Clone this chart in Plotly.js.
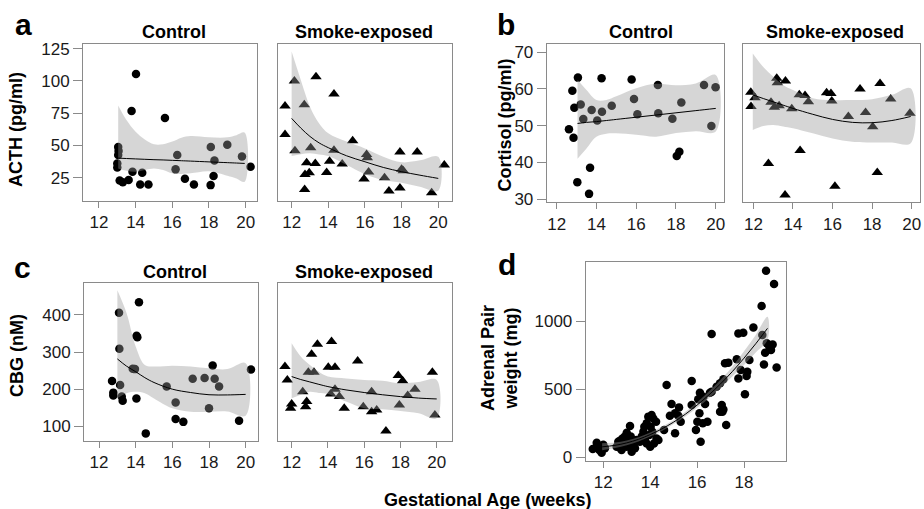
<!DOCTYPE html>
<html>
<head>
<meta charset="utf-8">
<script src="https://cdn.plot.ly/plotly-3.0.1.min.js"></script>
<style>html,body{margin:0;padding:0;background:#fff}#chart{width:924px;height:509px}</style>
</head>
<body>
<div id="chart"></div>
<script>
// ---------- DATA ----------
// Panel a: ACTH (pg/ml)
const acthCtrlX = [14.02, 13.78, 15.6, 13.05, 13.07, 13.05, 13.0, 13.0, 13.83, 13.13, 13.3, 13.62, 14.36, 14.25, 14.7, 16.27, 16.18, 16.69, 17.18, 18.1, 18.3, 18.25, 18.09, 19.0, 19.8, 20.27];
const acthCtrlY = [105.4, 76.7, 71.3, 48.8, 45.8, 42.6, 36, 33, 29.7, 22.9, 21.6, 23.2, 28.9, 19.8, 19.8, 42.6, 31.5, 24.2, 19.8, 48.8, 38.4, 26.3, 19.3, 50.6, 41.5, 33.5];
const acthCtrlFitX = [13.05, 13.5, 14, 14.5, 15, 15.5, 16, 16.5, 17, 18, 19, 19.5, 19.95];
const acthCtrlFit = [40.2, 39.9, 39.6, 39.3, 39.0, 38.8, 38.5, 38.2, 37.9, 37.3, 36.7, 36.4, 36.1];
const acthCtrlUp = [81, 69.7, 60.7, 54.7, 51, 51, 53, 56, 57.3, 56.3, 56.3, 58, 59.9];
const acthCtrlLo = [32.2, 30.5, 29.7, 31, 32.2, 31, 28.4, 28, 28.4, 30, 26.5, 24.5, 21.9];

const acthSmokeX = [11.64, 11.64, 12.15, 12.69, 12.18, 13.33, 14.31, 13.04, 12.82, 13.29, 12.73, 12.96, 12.71, 14.07, 13.91, 14.31, 14.76, 15.33, 16.09, 16.13, 16.2, 15.95, 17.07, 17.31, 17.91, 18.0, 18.09, 17.91, 18.85, 19.64, 20.33];
const acthSmokeY = [80.6, 58.6, 99.9, 81.6, 45.9, 103.3, 89.9, 48.3, 36.6, 36.1, 27.6, 28.9, 16, 37.7, 29.1, 46.4, 35.6, 53.7, 43.1, 40.5, 29.4, 24, 25, 14.7, 44.9, 31.5, 30.4, 17, 44.9, 13.4, 34.8];
const acthSmokeFitX = [12, 12.5, 13, 13.5, 14, 15, 16, 17, 18, 19, 20];
const acthSmokeFit = [71, 63.5, 57, 52, 48.3, 42, 37.4, 33, 29.7, 27, 24.5];
const acthSmokeUp = [122.7, 100.7, 80, 67, 59.4, 53, 47.7, 41.3, 37, 38.5, 41.3];
const acthSmokeLo = [41.8, 43.3, 43.9, 43, 41.8, 34.8, 27.8, 23.2, 21.1, 18, 15];

// Panel b: Cortisol (pg/ml)
const cortCtrlX = [12.62, 12.79, 12.89, 12.85, 13.07, 13.04, 13.21, 13.34, 13.68, 13.63, 13.76, 14.04, 14.28, 14.26, 14.77, 15.77, 15.89, 16.06, 17.09, 17.11, 17.82, 18.27, 18.17, 18.04, 19.41, 19.99, 19.78];
const cortCtrlY = [49, 59.5, 54.9, 46.7, 63.1, 34.6, 55.8, 51.8, 38.5, 31.4, 54.3, 51.4, 53.8, 62.9, 55.4, 62.6, 57.3, 53.1, 61.1, 53.4, 51.9, 56.3, 42.9, 41.7, 61.1, 60.5, 49.9];
const cortCtrlFitX = [13.05, 13.5, 14, 14.5, 15, 16, 17, 18, 19, 20];
const cortCtrlFit = [50.6, 50.9, 51.1, 51.4, 51.7, 52.3, 52.9, 53.5, 54.1, 54.7];
const cortCtrlUp = [62.5, 59.7, 57, 57, 58, 60.2, 61.4, 61, 61.5, 63.8];
const cortCtrlLo = [41, 43.8, 47, 47.8, 47.9, 47.5, 47, 48, 48.5, 48.4];

const cortSmokeX = [11.87, 12.08, 11.88, 13.18, 13.21, 13.62, 12.89, 13.06, 13.3, 13.94, 12.76, 13.6, 14.36, 14.32, 14.61, 14.78, 15.7, 15.92, 15.96, 16.12, 16.8, 17.39, 17.67, 18.03, 18.4, 18.26, 18.94, 19.91];
const cortSmokeY = [59.1, 57.6, 55.2, 62.9, 61.7, 62.2, 56.4, 55, 55.4, 54.6, 39.7, 31.1, 43.2, 58.4, 58.2, 56.5, 59, 58.8, 56.7, 33.5, 52.5, 60, 53.6, 49.7, 61.5, 37.2, 57.3, 53.4];
const cortSmokeFitX = [11.97, 12.5, 13, 13.5, 14, 15, 16, 17, 18, 19, 19.95];
const cortSmokeFit = [58.4, 57.4, 56.5, 55.6, 54.7, 53.1, 51.7, 50.9, 50.8, 51.4, 52.5];
const cortSmokeUp = [69.7, 66, 63.4, 61.1, 59.7, 57.5, 57, 57, 57.2, 58.4, 60.2];
const cortSmokeLo = [48.8, 49.9, 50.2, 49.8, 49.3, 47.9, 46.5, 45.6, 45.4, 45.4, 45.2];

// Panel c: CBG (nM)
const cbgCtrlX = [12.71, 12.78, 12.78, 13.09, 13.11, 13.15, 13.24, 13.29, 13.84, 13.96, 14.05, 14.09, 14.04, 14.18, 14.55, 15.69, 16.18, 16.18, 16.6, 17.11, 17.76, 18.0, 18.2, 18.31, 18.55, 19.64, 20.29];
const cbgCtrlY = [222, 190.7, 182.7, 406, 309, 211, 180, 169, 255, 254, 344, 340, 175, 434, 81, 207, 164, 120, 112, 228, 230, 148.5, 264, 228, 207, 115, 253];
const cbgCtrlFitX = [13, 13.5, 14, 14.5, 15, 16, 17, 18, 19, 20];
const cbgCtrlFit = [281.5, 262, 247, 231, 218, 200, 191, 185, 184.5, 186];
const cbgCtrlUp = [466, 405, 315, 265, 261, 263, 261, 256, 254, 270];
const cbgCtrlLo = [175.5, 189, 193, 189, 175, 148.5, 139.5, 139.5, 140, 128.7];

const cbgSmokeX = [11.63, 11.76, 12.0, 11.94, 12.61, 12.83, 12.77, 12.92, 13.1, 13.23, 13.42, 14.02, 14.2, 14.39, 14.39, 14.15, 14.63, 14.9, 15.64, 15.95, 16.41, 16.69, 16.41, 17.2, 17.88, 18.12, 17.94, 18.4, 18.8, 19.76, 19.9];
const cbgSmokeY = [260.8, 224.9, 160, 148.5, 193, 166.5, 153, 245.6, 294, 245.6, 321, 259, 328, 259, 199.7, 187, 180, 148.5, 276, 153, 139.5, 144, 193, 87.4, 236.6, 223, 157.5, 182.7, 199.7, 245.6, 130.5];
const cbgSmokeFitX = [12, 12.5, 13, 13.5, 14, 15, 16, 17, 18, 19, 20];
const cbgSmokeFit = [234, 226, 219.5, 213, 207, 198, 191, 185, 180, 176, 173.7];
const cbgSmokeUp = [323.7, 288, 265, 247, 234, 229, 225, 223, 216, 219.5, 225];
const cbgSmokeLo = [175.5, 185, 193, 190, 187, 166.5, 148.5, 146, 141, 135, 121.6];

// Panel d: Adrenal pair weight (mg)
const adrX = [11.55, 11.72, 11.83, 11.93, 12.07, 11.79, 12.0, 12.57, 12.64, 12.74, 12.85, 12.92, 13.0, 12.78, 13.14, 13.07, 13.21, 13.28, 13.35, 13.0, 12.82, 12.71, 13.42, 13.17, 13.02, 13.25,
  13.64, 13.71, 13.78, 13.85, 14.0, 13.96, 13.85, 13.92, 14.06, 14.13, 14.25, 14.02, 14.27, 14.16, 14.35, 14.09, 13.75, 13.56,
  14.7, 14.59, 14.91, 14.84, 15.06, 15.23, 15.2, 15.3, 15.06,
  15.77, 15.77, 15.95, 16.01, 16.1, 16.15, 16.12, 16.05, 16.24, 16.34, 16.44, 16.27, 16.62, 16.55, 16.62, 16.83, 17.05, 17.12, 16.98, 17.08, 17.24, 16.98, 17.12, 17.33, 17.19,
  17.69, 17.76, 17.76, 17.97, 17.86, 18.04, 18.11, 18.23, 18.4, 18.75, 18.78, 18.85, 18.9, 18.97, 18.94, 19.08, 19.15, 19.28, 19.39, 19.22, 18.14];
const adrY = [59, 105, 51, 32, 64, 76, 91, 76, 113, 64, 100, 150, 76, 51, 228, 113, 39, 88, 64, 179, 137, 120, 125, 150, 137, 120,
  150, 186, 137, 100, 76, 162, 248, 297, 309, 284, 260, 223, 137, 100, 125, 186, 223, 113,
  529, 199, 390, 304, 174, 365, 304, 260, 321,
  559, 382, 199, 260, 321, 113, 473, 424, 248, 390, 260, 443, 904, 473, 480, 517, 382, 350, 333, 333, 235, 542, 571, 694, 689,
  718, 578, 909, 914, 640, 461, 596, 713, 953, 1110, 897, 681, 767, 836, 1370, 811, 787, 1272, 659, 828, 627];
const adrFitX = [11.95, 12.5, 13, 13.5, 14, 14.5, 15, 15.5, 16, 16.5, 17, 17.5, 18, 18.5, 19];
const adrFit = [75, 86, 104, 130, 165, 207, 257, 315, 382, 456, 538, 628, 727, 833, 946];
const adrUp = [102, 106, 122, 146, 180, 222, 272, 332, 402, 481, 568, 664, 777, 898, 1031];
const adrLo = [50, 66, 86, 114, 150, 192, 242, 298, 362, 431, 508, 592, 677, 768, 861];

// Tick labels
const weekTicks = [12, 14, 16, 18, 20];
const weekTicksD = [12, 14, 16, 18];
const acthTicks = [25, 50, 75, 100, 125];
const cortTicks = [30, 40, 50, 60, 70];
const cbgTicks = [100, 200, 300, 400];
const adrTicks = [0, 500, 1000];

// ---------- BUILD ----------
const W = 924, H = 509;
const FONT = 'Liberation Sans, Arial, Helvetica, sans-serif';
const BOX = '#8a8a8a';
const px = v => v / W;
const py = v => 1 - v / H;

const traces = [];
function panel(n, xs, ys, sym, fx, fy, up, lo) {
  const xa = n === 1 ? 'x' : 'x' + n, ya = n === 1 ? 'y' : 'y' + n;
  traces.push({type: 'scatter', mode: 'markers', x: xs, y: ys, xaxis: xa, yaxis: ya,
    marker: {symbol: sym, color: '#000', size: sym === 'circle' ? 8.5 : 10, line: {width: 0}}, hoverinfo: 'skip'});
  traces.push({type: 'scatter', mode: 'lines', x: fx.concat(fx.slice().reverse()), y: up.concat(lo.slice().reverse()),
    xaxis: xa, yaxis: ya, fill: 'toself', fillcolor: 'rgba(153,153,153,0.4)', line: {width: 0, shape: 'spline'}, hoverinfo: 'skip'});
  traces.push({type: 'scatter', mode: 'lines', x: fx, y: fy, xaxis: xa, yaxis: ya,
    line: {color: '#000', width: 1, shape: 'spline'}, hoverinfo: 'skip'});
}
panel(1, acthCtrlX, acthCtrlY, 'circle', acthCtrlFitX, acthCtrlFit, acthCtrlUp, acthCtrlLo);
panel(2, acthSmokeX, acthSmokeY, 'triangle-up', acthSmokeFitX, acthSmokeFit, acthSmokeUp, acthSmokeLo);
panel(3, cortCtrlX, cortCtrlY, 'circle', cortCtrlFitX, cortCtrlFit, cortCtrlUp, cortCtrlLo);
panel(4, cortSmokeX, cortSmokeY, 'triangle-up', cortSmokeFitX, cortSmokeFit, cortSmokeUp, cortSmokeLo);
panel(5, cbgCtrlX, cbgCtrlY, 'circle', cbgCtrlFitX, cbgCtrlFit, cbgCtrlUp, cbgCtrlLo);
panel(6, cbgSmokeX, cbgSmokeY, 'triangle-up', cbgSmokeFitX, cbgSmokeFit, cbgSmokeUp, cbgSmokeLo);
panel(7, adrX, adrY, 'circle', adrFitX, adrFit, adrUp, adrLo);

function xax(x0, x1, range, ticks, anchor) {
  return {domain: [px(x0), px(x1)], range: range, tickvals: ticks, ticktext: ticks.map(String), anchor: anchor,
    ticks: 'outside', ticklen: 6, tickcolor: BOX, tickwidth: 1, showline: true, mirror: true, linecolor: BOX, linewidth: 1,
    showgrid: false, zeroline: false, tickfont: {family: FONT, size: 17, color: '#1a1a1a'}, fixedrange: true};
}
function yax(y0, y1, range, ticks, anchor, show) {
  return {domain: [py(y1), py(y0)], range: range, tickvals: show ? ticks : [], ticktext: show ? ticks.map(String) : [], anchor: anchor,
    ticks: show ? 'outside' : '', ticklen: 9, tickcolor: BOX, tickwidth: 1, showline: true, mirror: true, linecolor: BOX, linewidth: 1,
    showgrid: false, zeroline: false, showticklabels: show, tickfont: {family: FONT, size: 17, color: '#1a1a1a'}, fixedrange: true};
}

const layout = {
  width: W, height: H, margin: {l: 0, r: 0, t: 0, b: 0}, paper_bgcolor: '#fff', plot_bgcolor: '#fff', showlegend: false,
  font: {family: FONT, color: '#000'},
  xaxis: xax(83, 257, [11.13, 20.62], weekTicks, 'y'),
  yaxis: yax(44, 201, [7, 128.6], acthTicks, 'x', true),
  xaxis2: xax(277.7, 452, [11.24, 20.75], weekTicks, 'y2'),
  yaxis2: yax(44, 201, [7, 128.6], acthTicks, 'x2', false),
  xaxis3: xax(546.7, 724.3, [11.5, 20.43], weekTicks, 'y3'),
  yaxis3: yax(43.7, 202.3, [29.1, 72.35], cortTicks, 'x3', true),
  xaxis4: xax(742.7, 920, [11.46, 20.42], weekTicks, 'y4'),
  yaxis4: yax(43.7, 202.3, [29.1, 72.35], cortTicks, 'x4', false),
  xaxis5: xax(84, 258.3, [11.18, 20.69], weekTicks, 'y5'),
  yaxis5: yax(283.3, 441, [60.5, 485], cbgTicks, 'x5', true),
  xaxis6: xax(277.7, 452.3, [11.23, 20.86], weekTicks, 'y6'),
  yaxis6: yax(283.3, 441, [60.5, 485], cbgTicks, 'x6', false),
  xaxis7: xax(585.7, 786, [11.25, 19.79], weekTicksD, 'y7'),
  yaxis7: yax(261.7, 460.7, [-27, 1436], adrTicks, 'x7', true),
  annotations: []
};

function ann(text, x, y, size, opts) {
  layout.annotations.push(Object.assign({text: '<b>' + text + '</b>', xref: 'paper', yref: 'paper', x: px(x), y: py(y),
    xanchor: 'center', yanchor: 'middle', showarrow: false, font: {family: FONT, size: size, color: '#000'}}, opts || {}));
}
// panel letters
ann('a', 23, 25, 30);
ann('b', 506, 25, 30);
ann('c', 22, 267, 30);
ann('d', 507, 264, 30);
// facet titles
ann('Control', 174, 32, 18);
ann('Smoke-exposed', 364, 32, 18);
ann('Control', 640.5, 32, 18);
ann('Smoke-exposed', 834.5, 32, 18);
ann('Control', 175, 271.5, 18);
ann('Smoke-exposed', 364, 271.5, 18);
// axis titles
ann('ACTH (pg/ml)', 15.5, 129.5, 18, {textangle: -90});
ann('Cortisol (pg/ml)', 504.5, 125, 18, {textangle: -90});
ann('CBG (nM)', 17, 356, 18, {textangle: -90});
ann('Adrenal Pair<br>weight (mg)', 499, 358, 18, {textangle: -90});
ann('Gestational Age (weeks)', 487.5, 500, 18);

Plotly.newPlot('chart', traces, layout, {displayModeBar: false, staticPlot: true});
</script>
</body>
</html>
